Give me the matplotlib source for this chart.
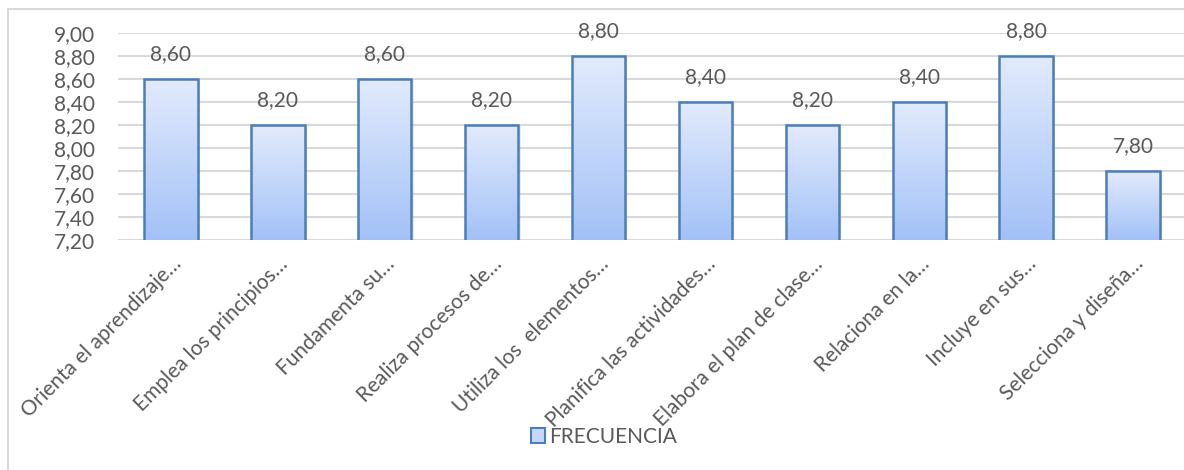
import numpy as np
import matplotlib
matplotlib.use("Agg")
import matplotlib.pyplot as plt
from matplotlib.patches import Rectangle
from matplotlib.colors import LinearSegmentedColormap

categories = [
    "Orienta el aprendizaje…",
    "Emplea los principios…",
    "Fundamenta su…",
    "Realiza procesos de…",
    "Utiliza los  elementos…",
    "Planifica las actividades…",
    "Elabora el plan de clase…",
    "Relaciona en la…",
    "Incluye en sus…",
    "Selecciona y diseña…",
]
values = [8.60, 8.20, 8.60, 8.20, 8.80, 8.40, 8.20, 8.40, 8.80, 7.80]
yticks = [7.20, 7.40, 7.60, 7.80, 8.00, 8.20, 8.40, 8.60, 8.80, 9.00]
series_name = "FRECUENCIA"

plt.rcParams["font.family"] = ["Lato", "DejaVu Sans"]
TXT = "#595959"
GRID = "#d9d9d9"
EDGE = "#4a7ebb"
grad = LinearSegmentedColormap.from_list("bar", ["#a3c1f7", "#e2ebfc"])

W, H = 1184, 470
fig = plt.figure(figsize=(W / 100, H / 100), dpi=100)

# chart-area frame
fig.patches.append(Rectangle((8 / W, -0.1), 1.2, (H - 9) / H + 0.1,
                             transform=fig.transFigure, fill=False,
                             edgecolor=GRID, linewidth=1.5))

ax = fig.add_axes([117.5 / W, 1 - 240 / H, 1069 / W, 207 / H])
x = np.arange(len(categories))

for s in ax.spines.values():
    s.set_visible(False)
ax.set_yticks(yticks)
ax.set_yticklabels([f"{t:.2f}".replace(".", ",") for t in yticks],
                   fontsize=15, color=TXT)
ax.yaxis.grid(True, color=GRID, linewidth=1.5)
ax.set_axisbelow(True)
ax.tick_params(axis="both", length=0)
ax.tick_params(axis="y", pad=16)

bars = ax.bar(x, values, width=0.5, facecolor="none", edgecolor=EDGE,
              linewidth=1.8, zorder=3)
gimg = np.linspace(0, 1, 256).reshape(-1, 1)
for b, v in zip(bars, values):
    bx, bw = b.get_x(), b.get_width()
    # soft shadow
    ax.add_patch(Rectangle((bx + 0.02, yticks[0]), bw, v - yticks[0] - 0.01,
                           facecolor="#000000", alpha=0.08, edgecolor="none",
                           zorder=2))
    im = ax.imshow(gimg, cmap=grad, aspect="auto", origin="lower",
                   extent=(bx, bx + bw, yticks[0], v), zorder=2.5)
    im.set_clip_path(b)
    ax.annotate(f"{v:.2f}".replace(".", ","), (bx + bw / 2, v),
                xytext=(0, 11), textcoords="offset points",
                ha="center", va="bottom", fontsize=15, color=TXT)
ax.set_xlim(-0.5, len(categories) - 0.5)
ax.set_ylim(yticks[0], yticks[-1])

ax.set_xticks(x)
ax.set_xticklabels(categories, rotation=45, ha="right",
                   rotation_mode="anchor", fontsize=15, color=TXT)
ax.tick_params(axis="x", pad=10)

# legend
handle = Rectangle((0, 0), 1, 1, facecolor="#c5d8fa", edgecolor=EDGE,
                   linewidth=1.5)
fig.legend([handle], [series_name], loc="center",
           bbox_to_anchor=(604 / W, 1 - 437 / H), frameon=False,
           fontsize=15, labelcolor=TXT, handlelength=0.7, handleheight=0.7,
           handletextpad=0.2)

fig.savefig("out.png", dpi=100)
